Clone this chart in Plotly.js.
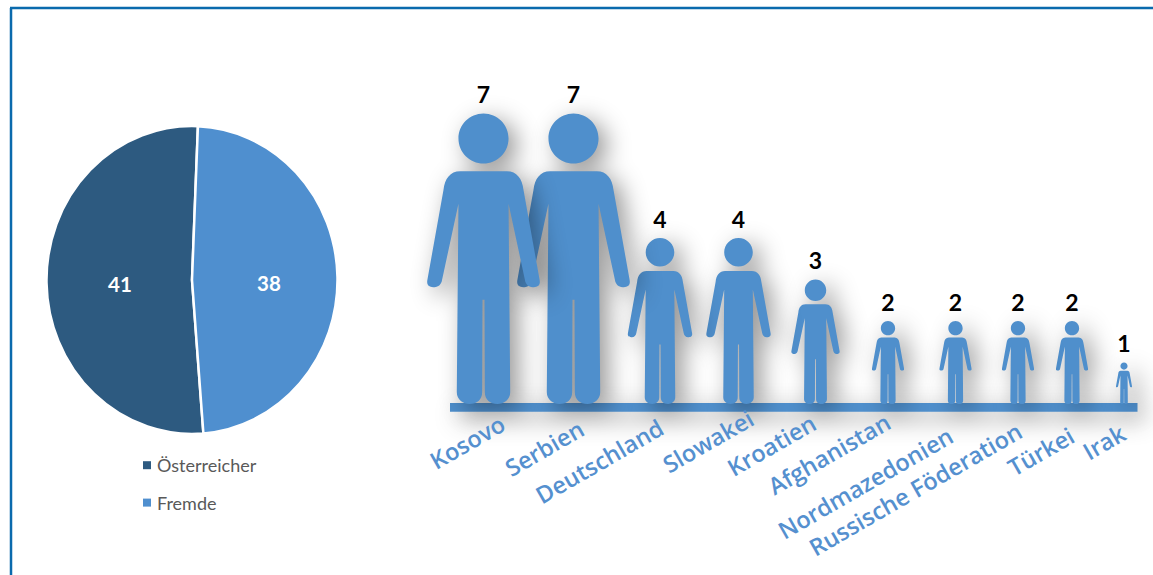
<!DOCTYPE html>
<html lang="de">
<head>
<meta charset="utf-8">
<title>Österreicher und Fremde</title>
<script src="https://cdn.plot.ly/plotly-3.0.1.min.js"></script>
<style>
  html, body { margin: 0; padding: 0; background: #fff; overflow: hidden; }
  #chart { width: 1153px; height: 575px; }
</style>
</head>
<body>
<div id="chart"></div>
<script>
// Share of residents
const groupLabels = ['Österreicher', 'Fremde'];
const groupValues = [41, 38];
const groupColors = ['#2d5a80', '#4f8fcf'];

// Foreign residents by country of origin
const countries = ['Kosovo', 'Serbien', 'Deutschland', 'Slowakei', 'Kroatien', 'Afghanistan',
  'Nordmazedonien', 'Russische Föderation', 'Türkei', 'Irak'];
const countryValues = [7, 7, 4, 4, 3, 2, 2, 2, 2, 1];

// Horizontal placement of each figure and the end of its slanted label (px)
const figureCentres = [483.5, 573.5, 660, 738.5, 815.5, 888, 955.5, 1018, 1072, 1124];
const labelRight = [506, 585, 665, 755, 817, 891, 954, 1023, 1076, 1127];
const labelTop = [413, 418, 417, 408, 413, 412, 426, 421, 425, 423];

// Where the two pie counts sit (px)
const pieTextX = [120, 269];
const pieTextY = [284, 283];

const W = 1153, H = 575;
const BASE_PX = 404;          // pixel row of value 0
const PX_PER_UNIT = 41.5;     // figure height per person
const FIGURE_BLUE = '#4f8fcc';
const yOfPx = px => (BASE_PX - px) / PX_PER_UNIT;

// Right half of a standing figure, 870 units tall; the left half is its mirror
const HALF_START = [0, 697];
const HALF_SEGMENTS = [
  { end: [70, 697] },
  { ctrl: [[100, 697], [116, 675]], end: [120, 640] },
  { end: [168, 372] },
  { ctrl: [[172, 352], [158, 350]], end: [147, 350] },
  { ctrl: [[135, 350], [126, 358]], end: [124, 372] },
  { end: [75, 600] },
  { end: [80, 35] },
  { ctrl: [[80, 12], [60, 0]], end: [42, 0] },
  { ctrl: [[20, 0], [4, 12]], end: [4, 35] },
  { end: [3, 312] },
  { end: [0, 312] }
];
const HEAD_CENTRE = 795, HEAD_RADIUS = 75, TEMPLATE_HEIGHT = 870;

function figurePath(cx, value) {
  const k = value * PX_PER_UNIT / TEMPLATE_HEIGHT;
  const pt = (u, h, sign) => (cx + sign * u * k).toFixed(2) + ',' + (h / TEMPLATE_HEIGHT * value).toFixed(4);
  let d = 'M' + pt(HALF_START[0], HALF_START[1], 1);
  HALF_SEGMENTS.forEach(s => {
    d += s.ctrl
      ? 'C' + pt(s.ctrl[0][0], s.ctrl[0][1], 1) + ' ' + pt(s.ctrl[1][0], s.ctrl[1][1], 1) + ' ' + pt(s.end[0], s.end[1], 1)
      : 'L' + pt(s.end[0], s.end[1], 1);
  });
  // walk back up the mirrored side
  for (let i = HALF_SEGMENTS.length - 1; i >= 0; i--) {
    const s = HALF_SEGMENTS[i];
    const prev = i > 0 ? HALF_SEGMENTS[i - 1].end : HALF_START;
    d += s.ctrl
      ? 'C' + pt(s.ctrl[1][0], s.ctrl[1][1], -1) + ' ' + pt(s.ctrl[0][0], s.ctrl[0][1], -1) + ' ' + pt(prev[0], prev[1], -1)
      : 'L' + pt(prev[0], prev[1], -1);
  }
  d += 'Z';
  // head as four cubic arcs
  const r = HEAD_RADIUS, c = HEAD_CENTRE, q = 0.5523 * r;
  d += 'M' + pt(r, c, 1)
    + 'C' + pt(r, c + q, 1) + ' ' + pt(q, c + r, 1) + ' ' + pt(0, c + r, 1)
    + 'C' + pt(q, c + r, -1) + ' ' + pt(r, c + q, -1) + ' ' + pt(r, c, -1)
    + 'C' + pt(r, c - q, -1) + ' ' + pt(q, c - r, -1) + ' ' + pt(0, c - r, 1)
    + 'C' + pt(q, c - r, 1) + ' ' + pt(r, c - q, 1) + ' ' + pt(r, c, 1) + 'Z';
  return d;
}

const PIE_CX = 192, PIE_CY = 280, PIE_R = 145.5, PIE_STRETCH = 154 / 145.5;

const traces = [
  {
    type: 'pie',
    labels: groupLabels,
    values: groupValues,
    sort: false,
    direction: 'clockwise',
    rotation: 175.5,
    marker: { colors: groupColors, line: { color: '#ffffff', width: 2.5 } },
    textinfo: 'none',
    domain: {
      x: [(PIE_CX - PIE_R) / W, (PIE_CX + PIE_R) / W],
      y: [1 - (PIE_CY + PIE_R) / H, 1 - (PIE_CY - PIE_R) / H]
    },
    showlegend: false,
    hoverinfo: 'skip'
  },
  // Legend entries for the two pie groups
  ...groupLabels.map((name, i) => ({
    type: 'scatter', mode: 'markers', name: name, legendgroup: name,
    x: [null], y: [null],
    marker: { symbol: 'square', size: 8, color: groupColors[i] },
    hoverinfo: 'skip'
  })),
  // Counts printed above each figure; the hidden marker sets the gap to the head
  {
    type: 'scatter', mode: 'markers+text',
    x: figureCentres, y: countryValues,
    text: countryValues.map(String),
    textposition: 'top center',
    marker: { size: 6, opacity: 0 },
    textfont: { family: 'Lato', size: 23, color: '#000000', weight: 700 },
    showlegend: false,
    hoverinfo: 'skip'
  }
];

const shapes = [
  // page frame
  { type: 'line', xref: 'x', yref: 'y', x0: 11, x1: 11, y0: yOfPx(8), y1: yOfPx(H), line: { color: '#0a6aad', width: 2.5 } },
  { type: 'line', xref: 'x', yref: 'y', x0: 10, x1: W, y0: yOfPx(8), y1: yOfPx(8), line: { color: '#0a6aad', width: 2.5 } },
  // ground bar the figures stand on
  { type: 'rect', xref: 'x', yref: 'y', x0: 450, x1: 1137.5, y0: yOfPx(403), y1: yOfPx(411.7), fillcolor: FIGURE_BLUE, line: { width: 0 } }
];
// The rightmost figure goes in first so that each neighbour overlaps the next one
for (let i = countries.length - 1; i >= 0; i--) {
  shapes.push({
    type: 'path', xref: 'x', yref: 'y',
    path: figurePath(figureCentres[i], countryValues[i]),
    fillcolor: FIGURE_BLUE, line: { width: 0 }
  });
}

const annotations = countries.map((name, i) => ({
  text: name,
  xref: 'x', yref: 'y',
  x: labelRight[i] + 6, y: yOfPx(labelTop[i] - 7),
  xanchor: 'right', yanchor: 'top',
  textangle: -30,
  showarrow: false,
  borderpad: 0,
  font: { family: 'Open Sans', size: 23.5, color: '#5590cf', weight: 600 }
})).concat(groupValues.map((v, i) => ({
  text: String(v),
  xref: 'x', yref: 'y',
  x: pieTextX[i], y: yOfPx(pieTextY[i]),
  xanchor: 'center', yanchor: 'middle',
  showarrow: false,
  font: { family: 'Lato', size: 20.5, color: '#ffffff', weight: 700 }
})));

const layout = {
  width: W, height: H,
  margin: { l: 0, r: 0, t: 0, b: 0 },
  paper_bgcolor: '#ffffff', plot_bgcolor: '#ffffff',
  xaxis: { range: [0, W], visible: false, fixedrange: true },
  yaxis: { range: [yOfPx(H), yOfPx(0)], visible: false, fixedrange: true },
  showlegend: true,
  legend: {
    x: 117 / W, xanchor: 'left',
    y: 1 - 447 / H, yanchor: 'top',
    bgcolor: 'rgba(0,0,0,0)',
    tracegroupgap: 11,
    font: { family: 'Lato', size: 18, color: '#595959' }
  },
  shapes, annotations,
  hovermode: false
};

Plotly.newPlot('chart', traces, layout, { displayModeBar: false, staticPlot: true }).then(gd => {
  // The pie reads slightly taller than wide: stretch the wedges about its centre row
  gd.querySelectorAll('.pielayer .slice path.surface').forEach(p => {
    p.setAttribute('transform', (p.getAttribute('transform') || '')
      + ' translate(0,' + PIE_CY + ') scale(1,' + PIE_STRETCH + ') translate(0,' + (-PIE_CY) + ')');
  });
  // Tuck the legend squares close to their text
  gd.querySelectorAll('.legend .legendsymbols').forEach(g => {
    g.setAttribute('transform', 'translate(10,0)');
  });
  // Soft drop shadow under the ground bar and the figures
  const drawn = gd.querySelectorAll('.shapelayer path');
  drawn.forEach((p, i) => {
    if (i >= 2) p.style.filter = 'drop-shadow(8px 7px 12px rgba(0,0,0,0.42))';
  });
});
</script>
</body>
</html>
